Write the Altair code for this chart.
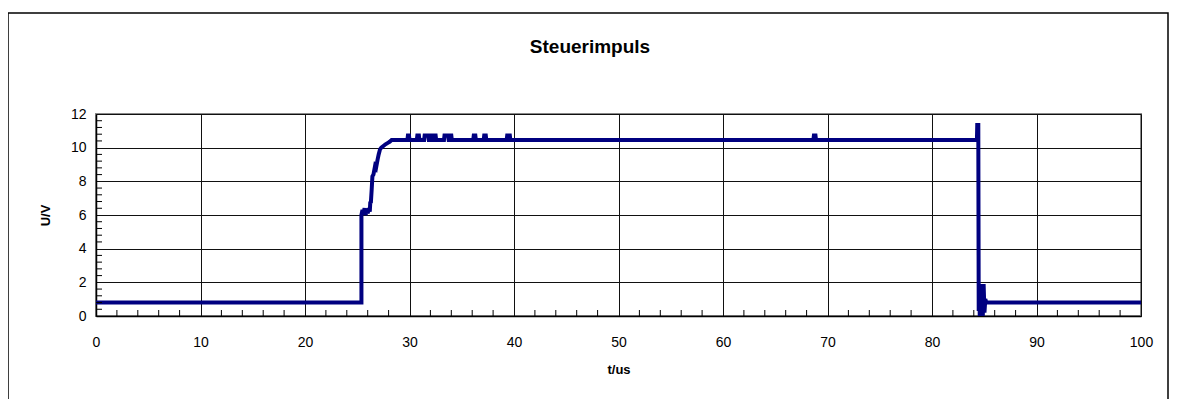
import altair as alt
import pandas as pd

# Measured signal (t in microseconds, U in volts)
t_vals = [0, 25.4,
          25.4, 25.5, 25.6, 25.7, 25.8, 25.9, 26.0, 26.1, 26.2, 26.25, 26.3, 26.38, 26.45, 26.55, 26.7, 26.8,
          26.95, 27.05, 27.18, 27.3, 27.5, 27.7, 27.97, 28.1, 28.29,
          29.8, 29.85, 29.95, 30.0,
          30.7, 30.75, 30.9, 30.95,
          31.4, 31.45, 31.8, 31.85, 31.95, 32.0, 32.1, 32.15,
          32.35, 32.4, 32.5, 32.55,
          33.3, 33.35, 33.7, 33.75, 33.85, 33.9, 34.0, 34.05,
          36.1, 36.15, 36.3, 36.35,
          37.1, 37.15, 37.3, 37.35,
          39.3, 39.35, 39.6, 39.65,
          68.65, 68.7, 68.85, 68.9,
          84.3, 84.33, 84.43, 84.47, 84.52, 84.57, 84.62, 84.7, 84.78, 84.86, 84.94, 85.02, 85.1, 85.2,
          100]
u_vals = [0.8, 0.8,
          6.0, 6.3, 6.1, 6.4, 6.0, 6.3, 6.1, 6.4, 6.2, 6.8, 6.7, 7.5, 8.3, 8.4, 8.9, 8.8,
          9.3, 9.6, 9.9, 10.0, 10.1, 10.2, 10.3, 10.35, 10.45,
          10.45, 10.72, 10.72, 10.45,
          10.45, 10.72, 10.72, 10.45,
          10.45, 10.72, 10.72, 10.45, 10.45, 10.72, 10.72, 10.45,
          10.45, 10.72, 10.72, 10.45,
          10.45, 10.72, 10.72, 10.45, 10.45, 10.72, 10.72, 10.45,
          10.45, 10.72, 10.72, 10.45,
          10.45, 10.72, 10.72, 10.45,
          10.45, 10.72, 10.72, 10.45,
          10.45, 10.72, 10.72, 10.45,
          10.45, 11.35, 11.35, 0.3, 1.9, 0.0, 1.8, 0.1, 1.9, 0.0, 1.9, 0.2, 1.0, 0.8,
          0.8]

x_major = [0, 10, 20, 30, 40, 50, 60, 70, 80, 90, 100]
y_major = [0, 2, 4, 6, 8, 10, 12]
x_minor = [2, 4, 6, 8, 12, 14, 16, 18, 22, 24, 26, 28, 32, 34, 36, 38, 42, 44, 46, 48,
           52, 54, 56, 58, 62, 64, 66, 68, 72, 74, 76, 78, 82, 84, 86, 88, 92, 94, 96, 98]
y_minor = [0.4, 0.8, 1.2, 1.6, 2.4, 2.8, 3.2, 3.6, 4.4, 4.8, 5.2, 5.6, 6.4, 6.8, 7.2, 7.6,
           8.4, 8.8, 9.2, 9.6, 10.4, 10.8, 11.2, 11.6]
title_text = "Steuerimpuls"

W, H = 1045, 202
FONT = "Liberation Sans"

df = pd.DataFrame({"t": t_vals, "u": u_vals, "i": list(range(len(t_vals)))})
xs = alt.Scale(domain=[0, 100], nice=False, zero=False)
ys = alt.Scale(domain=[0, 12], nice=False, zero=False)

ax_x = alt.Axis(values=x_major, title="t/us", grid=True, ticks=False,
                labelPadding=19, labelFontSize=14, titleFontSize=13,
                titleFontWeight="bold", titlePadding=14, labelFlush=False,
                labelOverlap=False, tickCount=11,
                domainColor="#000", domainWidth=1.5,
                gridColor="#111", gridWidth=1, labelColor="#000", titleColor="#000")
ax_y = alt.Axis(values=y_major, title="U/V", grid=True, ticks=False,
                labelPadding=10, labelFontSize=14, titleFontSize=13,
                titleFontWeight="bold", titlePadding=18, labelFlush=False,
                labelOverlap=False, tickCount=7,
                domainColor="#000", domainWidth=1.5,
                gridColor="#111", gridWidth=1, labelColor="#000", titleColor="#000")

line = alt.Chart(df).mark_line(color="#000080", strokeWidth=4, clip=False).encode(
    x=alt.X("t:Q", scale=xs, axis=ax_x, title="t/us"),
    y=alt.Y("u:Q", scale=ys, axis=ax_y, title="U/V"),
    order="i:Q")

xminor = alt.Chart(pd.DataFrame({"t": x_minor})).mark_rule(color="#000", strokeWidth=1).encode(
    x=alt.X("t:Q", scale=xs, axis=ax_x, title="t/us"), y=alt.value(H), y2=alt.value(H - 6))
yminor = alt.Chart(pd.DataFrame({"u": y_minor})).mark_rule(color="#000", strokeWidth=1).encode(
    y=alt.Y("u:Q", scale=ys, axis=ax_y, title="U/V"), x=alt.value(0), x2=alt.value(6))

frame = alt.Chart(pd.DataFrame({"a": [0]})).mark_rect(
    fill=None, stroke="#000", strokeWidth=1.5, clip=False).encode(
    x=alt.value(-88), x2=alt.value(1072), y=alt.value(-101), y2=alt.value(300))

title = alt.Chart(pd.DataFrame({"a": [0]})).mark_text(
    font=FONT, fontSize=19, fontWeight="bold", color="#000", align="center",
    baseline="middle", clip=False).encode(
    x=alt.value(494), y=alt.value(-67), text=alt.value(title_text))

chart = alt.layer(line, xminor, yminor, frame, title).properties(
    width=W, height=H,
    autosize=alt.AutoSizeParams(type="none"),
    padding={"left": 88, "top": 106, "right": 28, "bottom": 83},
).configure(font=FONT).configure_view(stroke="#888", strokeWidth=2).configure_axis(
    labelFont=FONT, titleFont=FONT)

chart.save("out.html", embed_options={"renderer": "svg", "actions": False})
